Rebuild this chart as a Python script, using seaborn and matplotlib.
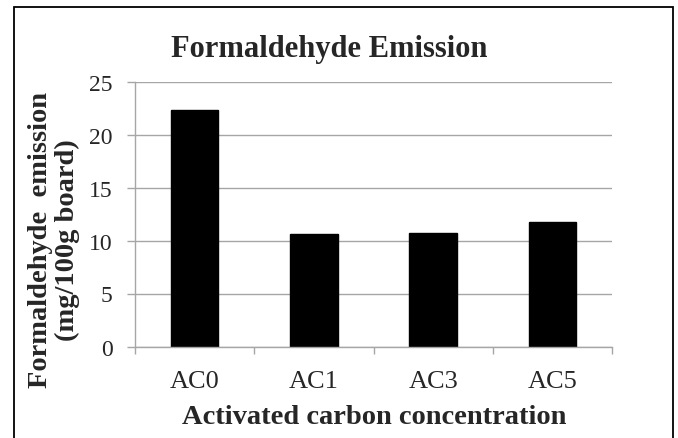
#!/usr/bin/env python3
"""Formaldehyde emission per activated carbon concentration (Excel-style bar chart)."""

import matplotlib

matplotlib.use("Agg")
import matplotlib.pyplot as plt
import pandas as pd
import seaborn as sns
from matplotlib.patches import Rectangle
from matplotlib.ticker import FixedLocator

CATEGORIES = ["AC0", "AC1", "AC3", "AC5"]
EMISSION = [22.3, 10.6, 10.7, 11.75]
Y_TICKS = [0, 5, 10, 15, 20, 25]

TITLE = "Formaldehyde Emission"
X_LABEL = "Activated carbon concentration"
Y_LABEL = "Formaldehyde  emission\n(mg/100g board)"

GREY = "#a6a6a6"


def main():
    sns.set_style("white")
    plt.rcParams["font.family"] = ["Liberation Serif", "DejaVu Serif"]

    df = pd.DataFrame({"group": CATEGORIES, "emission": EMISSION})

    W, H = 678, 439
    fig = plt.figure(figsize=(W / 100, H / 100), dpi=100)
    left, right, top, bottom = 135, 612, 82.5, 347.5
    ax = fig.add_axes([left / W, 1 - bottom / H, (right - left) / W, (bottom - top) / H])

    sns.barplot(data=df, x="group", y="emission", color="black", width=0.4,
                edgecolor="black", saturation=1, ax=ax, zorder=3)

    ax.set_xlim(-0.5, len(CATEGORIES) - 0.5)
    ax.set_ylim(0, 25)
    ax.set_yticks(Y_TICKS)
    ax.set_yticklabels([str(t) for t in Y_TICKS])
    ax.yaxis.grid(True, color=GREY, linewidth=1.0)
    ax.set_axisbelow(True)

    for side in ("top", "right"):
        ax.spines[side].set_visible(False)
    for side in ("left", "bottom"):
        ax.spines[side].set_color(GREY)
        ax.spines[side].set_linewidth(1.0)
        ax.spines[side].set_zorder(4)

    # category boundaries carry the tick marks, labels sit at centres
    ax.xaxis.set_minor_locator(FixedLocator([i - 0.5 for i in range(len(CATEGORIES) + 1)]))
    ax.tick_params(axis="x", which="minor", bottom=True, direction="out", length=5,
                   width=1.0, color=GREY)
    ax.tick_params(axis="x", which="major", bottom=True, length=0, pad=17, labelsize=19)
    ax.tick_params(axis="y", left=True, direction="out", length=6, width=1.0,
                   color=GREY, pad=10, labelsize=17)

    ax.set_xlabel("")
    ax.set_ylabel("")

    fig.text(329 / W, 1 - 50 / H, TITLE, ha="center", va="center",
             fontsize=22, fontweight="bold")
    fig.text(374 / W, 1 - 418 / H, X_LABEL, ha="center", va="center",
             fontsize=20.5, fontweight="bold")
    fig.text(54 / W, 1 - 240 / H, Y_LABEL, ha="center", va="center", rotation=90,
             fontsize=20.5, fontweight="bold", linespacing=1.1, multialignment="center")

    border = Rectangle((14 / W, -0.05), (673 - 14) / W, 1.05 - 8 / H,
                       transform=fig.transFigure, fill=False, edgecolor="black",
                       linewidth=1.3, clip_on=False)
    fig.patches.append(border)

    fig.savefig("out.png", dpi=100)
    plt.close(fig)


if __name__ == "__main__":
    main()
